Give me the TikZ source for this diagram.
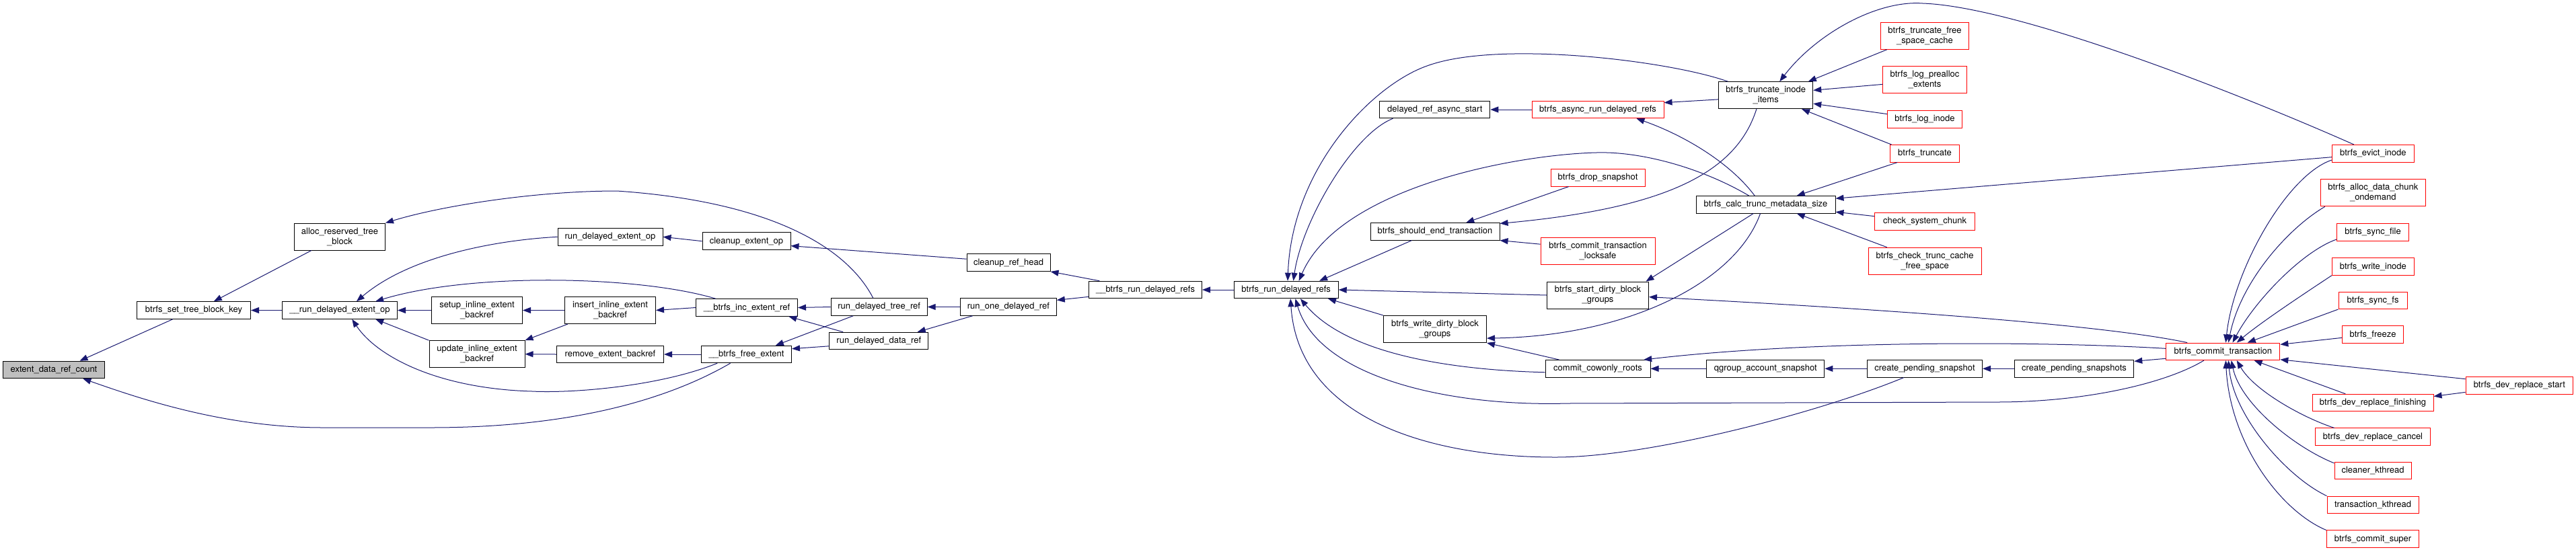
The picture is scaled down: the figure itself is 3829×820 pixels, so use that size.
\documentclass[tikz,border=0pt]{standalone}
\usepackage{fontspec}
\setmainfont{TeX Gyre Heros}
\usetikzlibrary{arrows.meta}
\definecolor{doxyblue}{HTML}{191970}
\definecolor{doxygrey}{HTML}{BFBFBF}
\tikzset{
  func/.style={
    shape = rectangle,
    draw,
    fill = white,
    line width = 1pt,
    inner sep = 0pt,
    minimum height = 25.5pt,
    align = center,
    font = \fontsize{13}{15}\selectfont
  },
}
\tikzset{
  redfunc/.style={
    func,
    draw = red
  },
  curfunc/.style={
    func,
    fill = doxygrey
  },
  tall/.style={
    minimum height = 40pt
  },
  call/.style={
    draw = doxyblue,
    line width = 1pt,
    -{Triangle[length=12pt,width=9pt]}
  }
}

\begin{document}
\begin{tikzpicture}[x=1pt, y=-1pt]
        \useasboundingbox (0,0) rectangle (3829,820);
        \node[curfunc, minimum width=151] (count) at (80,550) {extent\_data\_ref\_count};
        \node[func, minimum width=169] (setkey) at (288,461.5) {btrfs\_set\_tree\_block\_key};
        \node[func, tall, minimum width=135] (allocres) at (505,352) {alloc\_reserved\_tree\\\_block};
        \node[func, minimum width=171] (runext) at (505,461.5) {\_\_run\_delayed\_extent\_op};
        \node[func, tall, minimum width=135] (setupinl) at (709,461.5) {setup\_inline\_extent\\\_backref};
        \node[func, tall, minimum width=142] (updinl) at (709,526.7) {update\_inline\_extent\\\_backref};
        \node[func, minimum width=156] (runextop) at (907,352.3) {run\_delayed\_extent\_op};
        \node[func, tall, minimum width=135] (insertinl) at (907,461.5) {insert\_inline\_extent\\\_backref};
        \node[func, minimum width=159] (removebk) at (907,527) {remove\_extent\_backref};
        \node[func, minimum width=131] (cleanupop) at (1109.5,358.7) {cleanup\_extent\_op};
        \node[func, minimum width=151] (incref) at (1110,457.5) {\_\_btrfs\_inc\_extent\_ref};
        \node[func, minimum width=134] (freeext) at (1109.5,527) {\_\_btrfs\_free\_extent};
        \node[func, minimum width=143] (treeref) at (1306.7,456.5) {run\_delayed\_tree\_ref};
        \node[func, minimum width=147] (dataref) at (1306.3,507) {run\_delayed\_data\_ref};
        \node[func, minimum width=124] (cleanuphead) at (1499,390.7) {cleanup\_ref\_head};
        \node[func, minimum width=143] (runone) at (1498.8,456.5) {run\_one\_delayed\_ref};
        \node[func, minimum width=168] (btrunrefs) at (1702.5,431) {\_\_btrfs\_run\_delayed\_refs};
        \node[func, minimum width=155] (runrefs) at (1911.7,431) {btrfs\_run\_delayed\_refs};
        \node[func, minimum width=164] (asyncstart) at (2132.8,163) {delayed\_ref\_async\_start};
        \node[func, minimum width=192] (shouldend) at (2133,344.3) {btrfs\_should\_end\_transaction};
        \node[func, tall, minimum width=153] (writedirty) at (2133,489.5) {btrfs\_write\_dirty\_block\\\_groups};
        \node[redfunc, minimum width=196] (asyncrun) at (2375,163) {btrfs\_async\_run\_delayed\_refs};
        \node[redfunc, minimum width=140] (dropsnap) at (2375,264.3) {btrfs\_drop\_snapshot};
        \node[redfunc, tall, minimum width=170] (locksafe) at (2375,373.7) {btrfs\_commit\_transaction\\\_locksafe};
        \node[func, tall, minimum width=151] (startdirty) at (2375,439) {btrfs\_start\_dirty\_block\\\_groups};
        \node[func, minimum width=156] (cowonly) at (2375,548.3) {commit\_cowonly\_roots};
        \node[func, tall, minimum width=140] (truncinode) at (2624.7,141.7) {btrfs\_truncate\_inode\\\_items};
        \node[func, minimum width=207] (calc) at (2624.5,304.3) {btrfs\_calc\_trunc\_metadata\_size};
        \node[func, minimum width=175] (qgroup) at (2624.3,548.3) {qgroup\_account\_snapshot};
        \node[redfunc, tall, minimum width=131] (freespc) at (2861,53.3) {btrfs\_truncate\_free\\\_space\_cache};
        \node[redfunc, tall, minimum width=124.5] (prealloc) at (2861,118.8) {btrfs\_log\_prealloc\\\_extents};
        \node[redfunc, minimum width=111] (loginode) at (2861,177.5) {btrfs\_log\_inode};
        \node[redfunc, minimum width=103] (truncate) at (2861,228.3) {btrfs\_truncate};
        \node[redfunc, minimum width=149.5] (syschunk) at (2861,329.5) {check\_system\_chunk};
        \node[redfunc, tall, minimum width=168] (checktrunc) at (2861,388.2) {btrfs\_check\_trunc\_cache\\\_free\_space};
        \node[func, minimum width=171] (createsnap) at (2861,548.3) {create\_pending\_snapshot};
        \node[func, minimum width=177.5] (createsnaps) at (3083,548.3) {create\_pending\_snapshots};
        \node[redfunc, minimum width=169] (commit) at (3304.3,522.8) {btrfs\_commit\_transaction};
        \node[redfunc, minimum width=122] (evict) at (3527.3,228.3) {btrfs\_evict\_inode};
        \node[redfunc, tall, minimum width=156.5] (allocchunk) at (3527.3,286.8) {btrfs\_alloc\_data\_chunk\\\_ondemand};
        \node[redfunc, minimum width=107] (syncfile) at (3527,345.5) {btrfs\_sync\_file};
        \node[redfunc, minimum width=122] (writeinode) at (3527.3,396.5) {btrfs\_write\_inode};
        \node[redfunc, minimum width=102] (syncfs) at (3527,446.8) {btrfs\_sync\_fs};
        \node[redfunc, minimum width=91] (freeze) at (3527,497.5) {btrfs\_freeze};
        \node[redfunc, minimum width=180] (devfinish) at (3527,599) {btrfs\_dev\_replace\_finishing};
        \node[redfunc, minimum width=171] (devcancel) at (3527,649.7) {btrfs\_dev\_replace\_cancel};
        \node[redfunc, minimum width=114] (cleaner) at (3527,700) {cleaner\_kthread};
        \node[redfunc, minimum width=136] (transkthread) at (3527,750.8) {transaction\_kthread};
        \node[redfunc, minimum width=137.6] (commitsuper) at (3527,801.7) {btrfs\_commit\_super};
        \node[redfunc, minimum width=159.5] (devstart) at (3744.8,573.5) {btrfs\_dev\_replace\_start};
        \draw[call] (setkey.203) -- (count.19);
        \draw[call] (freeext.209) .. controls (1000,590) and (860,636) .. (640,636) -- (480,636) .. controls (330,636) and (200,590) .. (count.343);
        \draw[call] (allocres.206) -- (setkey.24);
        \draw[call] (runext.west) -- (setkey.east);
        \draw[call] (treeref.124) .. controls (1260,370) and (1150,300) .. (917,284) .. controls (800,284) and (660,305) .. (allocres.north east);
        \draw[call] (runextop.west) .. controls (740,357) and (610,380) .. (runext.28);
        \draw[call] (incref.164) .. controls (950,410) and (700,405) .. (runext.14);
        \draw[call] (setupinl.west) -- (runext.east);
        \draw[call] (updinl.164) -- (runext.346);
        \draw[call] (freeext.197) .. controls (980,575) and (850,585) .. (791,582) .. controls (650,578) and (560,530) .. (runext.324);
        \draw[call] (insertinl.west) -- (setupinl.east);
        \draw[call] (insertinl.198) -- (updinl.16);
        \draw[call] (removebk.west) -- (updinl.east);
        \draw[call] (incref.west) -- (insertinl.east);
        \draw[call] (freeext.west) -- (removebk.east);
        \draw[call] (cleanupop.west) -- (runextop.east);
        \draw[call] (cleanuphead.175) -- (cleanupop.354);
        \draw[call] (btrunrefs.169) -- (cleanuphead.south east);
        \draw[call] (treeref.west) -- (incref.east);
        \draw[call] (dataref.166) -- (incref.348);
        \draw[call] (treeref.199) -- (freeext.17);
        \draw[call] (dataref.186) -- (freeext.7);
        \draw[call] (runone.west) -- (treeref.east);
        \draw[call] (runone.194) -- (dataref.13);
        \draw[call] (btrunrefs.187) -- (runone.8);
        \draw[call] (runrefs.west) -- (btrunrefs.east);
        \draw[call] (truncinode.160) .. controls (2480,90) and (2230,60) .. (2124,97) .. controls (2040,125) and (1920,250) .. (runrefs.80);
        \draw[call] (asyncstart.192) .. controls (2010,200) and (1935,330) .. (runrefs.51);
        \draw[call] (shouldend.201) -- (runrefs.15);
        \draw[call] (calc.152) .. controls (2530,250) and (2440,225) .. (2373,227) .. controls (2250,230) and (1990,280) .. (runrefs.35);
        \draw[call] (startdirty.west) -- (runrefs.east);
        \draw[call] (writedirty.north west) -- (runrefs.348);
        \draw[call] (cowonly.184) .. controls (2150,550) and (2000,525) .. (runrefs.328);
        \draw[call] (commit.205) .. controls (3220,570) and (3100,598) .. (2968,598) -- (2330,600) .. controls (2150,605) and (1960,560) .. (runrefs.316);
        \draw[call] (createsnap.203) .. controls (2700,615) and (2450,680) .. (2312,680) .. controls (2120,680) and (1930,620) .. (runrefs.296);
        \draw[call] (cowonly.167) -- (writedirty.south east);
        \draw[call] (qgroup.west) -- (cowonly.east);
        \draw[call] (calc.239) .. controls (2580,420) and (2420,500) .. (writedirty.350);
        \draw[call] (calc.216) -- (startdirty.16);
        \draw[call] (commit.166) .. controls (3150,488) and (2900,465) .. (startdirty.358);
        \draw[call] (commit.177) .. controls (3050,508) and (2700,505) .. (cowonly.11);
        \draw[call] (createsnaps.west) -- (createsnap.east);
        \draw[call] (createsnap.west) -- (qgroup.east);
        \draw[call] (commit.187) -- (createsnaps.7);
        \draw[call] (asyncrun.west) -- (asyncstart.east);
        \draw[call] (truncinode.185) -- (asyncrun.6);
        \draw[call] (calc.141) .. controls (2570,240) and (2500,200) .. (asyncrun.347);
        \draw[call] (dropsnap.197) -- (shouldend.16);
        \draw[call] (locksafe.173) -- (shouldend.south east);
        \draw[call] (truncinode.236) .. controls (2580,260) and (2470,310) .. (shouldend.7);
        \draw[call] (freespc.200) -- (truncinode.18);
        \draw[call] (prealloc.186) -- (truncinode.6);
        \draw[call] (loginode.172) -- (truncinode.350);
        \draw[call] (truncate.165) -- (truncinode.339);
        \draw[call] (evict.155) .. controls (3330,140) and (3000,10) .. (2858,5) .. controls (2790,0) and (2700,50) .. (truncinode.45);
        \draw[call] (truncate.198) -- (calc.16);
        \draw[call] (evict.185) -- (calc.5);
        \draw[call] (syschunk.174) -- (calc.354);
        \draw[call] (checktrunc.160) -- (calc.344);
        \draw[call] (evict.189) .. controls (3400,260) and (3320,400) .. (commit.73);
        \draw[call] (allocchunk.196) .. controls (3400,340) and (3330,420) .. (commit.59);
        \draw[call] (syncfile.191) .. controls (3420,375) and (3350,450) .. (commit.43);
        \draw[call] (writeinode.south west) .. controls (3420,440) and (3360,480) .. (commit.33);
        \draw[call] (syncfs.south west) -- (commit.20);
        \draw[call] (freeze.186) -- (commit.7);
        \draw[call] (devstart.173) -- (commit.352);
        \draw[call] (devfinish.162) -- (commit.344);
        \draw[call] (devcancel.167) .. controls (3420,620) and (3350,580) .. (commit.327);
        \draw[call] (cleaner.169) .. controls (3410,665) and (3330,600) .. (commit.313);
        \draw[call] (transkthread.north west) .. controls (3400,710) and (3320,620) .. (commit.301);
        \draw[call] (commitsuper.north west) .. controls (3390,760) and (3315,660) .. (commit.287);
        \draw[call] (devstart.187) -- (devfinish.6);
    \end{tikzpicture}
\end{document}
